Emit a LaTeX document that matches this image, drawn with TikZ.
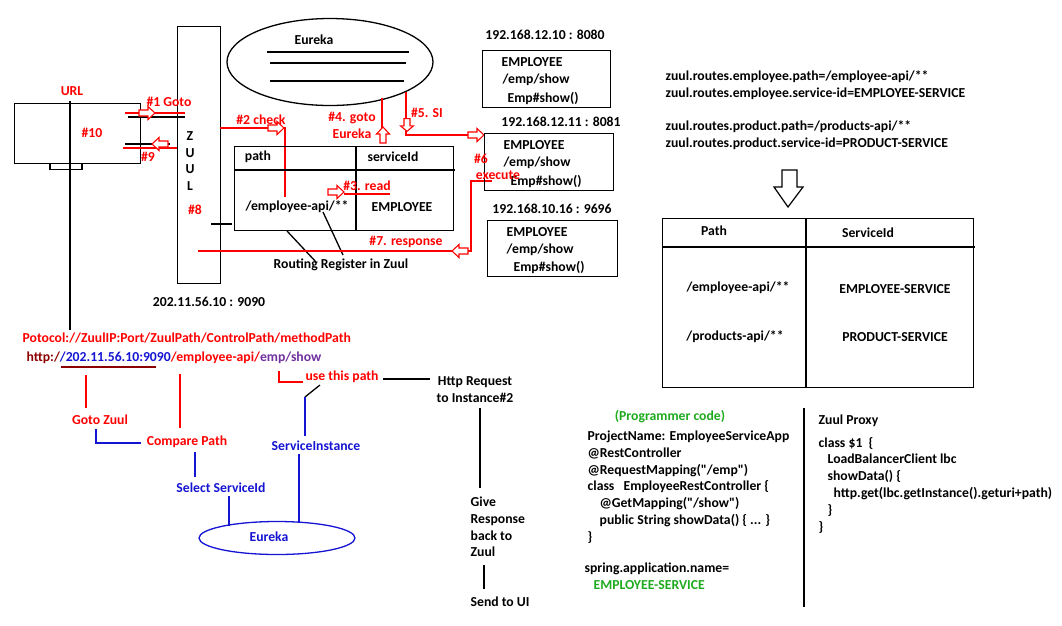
\documentclass[tikz,border=0pt]{standalone}
\usepackage{fontspec}
\setmainfont{Carlito}
\usetikzlibrary{shapes.geometric}
\definecolor{zred}{RGB}{255,0,0}
\definecolor{zblue}{RGB}{20,20,210}
\definecolor{zgreen}{RGB}{30,170,30}
\definecolor{zpurple}{RGB}{112,48,160}
\definecolor{zmaroon}{RGB}{140,0,0}
\tikzset{
  txt/.style={font=\bfseries\fontsize{13.7}{16.8}\selectfont, inner sep=0pt},
  rtxt/.style={txt, text=zred},
  btxt/.style={txt, text=zblue},
  gtxt/.style={txt, text=zgreen},
  box/.style={draw, line width=1.3pt, inner sep=0pt, anchor=north west},
  redln/.style={draw=zred, line width=1.3pt},
  blueln/.style={draw=zblue, line width=1.3pt},
  hollow/.pic={\draw[zred, fill=white, line width=1.1pt]
    (-8,-3) -- (1,-3) -- (1,-6.5) -- (8,0) -- (1,6.5) -- (1,3) -- (-8,3) -- cycle;},
}
\begin{document}
\begin{tikzpicture}[x=1pt, y=-1pt, line width=1.3pt]
  \useasboundingbox (0,0) rectangle (1062,625);

  % client screen
  \node[box, minimum width=126pt, minimum height=60pt] (client) at (14,103) {};
  \node[box, anchor=north, minimum width=32pt, minimum height=6pt] (stand) at (66,163) {};
  \node[rtxt] (url) at (72,91) {URL};
  \node[rtxt] (n10) at (92,133) {\#10};
  \node[rtxt] (n9) at (148,157) {\#9};

  % zuul server
  \node[box, minimum width=43pt, minimum height=257pt] (zuul) at (177,26) {};
  \node[txt, align=center] (zuulname) at (190,161) {Z\\U\\U\\L};
  \node[rtxt] (n8) at (195,210) {\#8};
  \node[txt] (zuulip) at (209,302) {202.11.56.10 : 9090};
  \draw (211,224) -- (232,224);

  % #1 and #9
  \draw[redln] (125,113) -- (185,113);
  \draw (128,117) -- (185,117);
  \pic at (147,113) {hollow};
  \node[rtxt] (n1) at (169,102) {\#1 Goto};
  \draw (125,144) -- (170,144);
  \draw[redln] (123,148) -- (177,148);
  \pic[rotate=180] at (160,144) {hollow};

  % #2 check
  \draw[redln] (220,128) -- (285,128) -- (285,197);
  \pic at (276,128) {hollow};
  \node[rtxt] (n2) at (261,120) {\#2 check};

  % eureka server
  \node[ellipse, draw, minimum width=206pt, minimum height=87pt, inner sep=0pt] (eureka) at (330,62) {};
  \node[txt] (eurekaname) at (314,40) {Eureka};
  \draw (267,52) -- (409,52);
  \draw (270,63) -- (406,63);
  \draw (270,81) -- (404,81);

  % #4 and #5
  \draw[redln] (382,98) -- (382,128);
  \pic[rotate=90] at (383,135) {hollow};
  \node[rtxt, align=center] (n4) at (352,125.5) {\#4. goto\\Eureka};
  \draw[redln] (406,92) -- (406,135) -- (484,135);
  \pic[rotate=270, xscale=0.8] at (407,125) {hollow};
  \pic at (476,135) {hollow};
  \node[rtxt] (n5) at (427,113) {\#5. SI};

  % routing register
  \node[box, minimum width=219pt, minimum height=84pt] (route) at (234,146) {};
  \draw (234,170) -- (455,170);
  \draw (356,146) -- (356,230);
  \node[txt] (pathhead) at (258,157) {path};
  \node[txt] (sidhead) at (393,157) {serviceId};
  \node[txt] (pathval) at (297,207) {/employee-api/**};
  \node[txt] (sidval) at (402,207) {EMPLOYEE};
  \draw[redln] (344,194) -- (390,194);
  \pic at (336,192) {hollow};
  \node[rtxt] (n3) at (367,186) {\#3. read};
  \node[txt] (regname) at (341,265) {Routing Register in Zuul};
  \draw (287,231) -- (316,262);
  \draw (323,212) -- (343,255);

  % #6 and #7
  \draw[redln] (198,251) -- (471,251) -- (471,181) -- (492,181);
  \pic[rotate=180] at (460,251) {hollow};
  \node[rtxt] (n7) at (406,242) {\#7. response};

  % service instances
  \node[box, minimum width=128pt, minimum height=57pt] (inst1) at (482,50) {};
  \node[txt] (ip1) at (545,35) {192.168.12.10 : 8080};
  \node[txt, anchor=west] (svc1) at (501,62) {EMPLOYEE};
  \node[txt, anchor=west] (path1) at (502,80) {/emp/show};
  \node[txt, anchor=west] (meth1) at (507,98) {Emp\#show()};

  \node[box, minimum width=129pt, minimum height=57pt] (inst2) at (484,133) {};
  \node[txt] (ip2) at (561,122) {192.168.12.11 : 8081};
  \node[txt, anchor=west] (svc2) at (503,145) {EMPLOYEE};
  \node[txt, anchor=west] (path2) at (503,163) {/emp/show};
  \node[txt, anchor=west] (meth2) at (510,181) {Emp\#show()};

  \node[box, minimum width=130pt, minimum height=56pt] (inst3) at (487,220) {};
  \node[txt] (ip3) at (552,209) {192.168.10.16 : 9696};
  \node[txt, anchor=west] (svc3) at (506,232) {EMPLOYEE};
  \node[txt, anchor=west] (path3) at (506,250) {/emp/show};
  \node[txt, anchor=west] (meth3) at (513,267) {Emp\#show()};

  \node[rtxt] (n6) at (481,159) {\#6};
  \node[rtxt] (n6b) at (498,175) {execute};

  % properties and route table
  \node[txt, anchor=west, align=left] (empprops) at (665,85) {zuul.routes.employee.path=/employee-api/**\\zuul.routes.employee.service-id=EMPLOYEE-SERVICE};
  \node[txt, anchor=west, align=left] (prodprops) at (665,135.5) {zuul.routes.product.path=/products-api/**\\zuul.routes.product.service-id=PRODUCT-SERVICE};
  \draw[fill=white, line width=1.2pt] (782,170) -- (797,170) -- (797,187) -- (803,187)
    -- (788,207) -- (774,187) -- (782,187) -- cycle;
  \node[box, minimum width=311pt, minimum height=169pt] (table) at (662,218) {};
  \draw (662,247) -- (975,247);
  \draw (806,218) -- (806,387);
  \node[txt] (tpath) at (714,231) {Path};
  \node[txt] (tsid) at (868,233) {ServiceId};
  \node[txt] (tempp) at (738,288) {/employee-api/**};
  \node[txt] (temps) at (895,289) {EMPLOYEE-SERVICE};
  \node[txt] (tprodp) at (735,337) {/products-api/**};
  \node[txt] (tprods) at (895,337) {PRODUCT-SERVICE};

  % url breakdown
  \draw (70,101) -- (70,330);
  \node[rtxt, anchor=west] (proto) at (22,338) {Potocol://ZuulIP:Port/ZuulPath/ControlPath/methodPath};
  \node[txt, anchor=west] (http) at (26,358) {\textcolor{zmaroon}{http:/}\textcolor{zblue}{/202.11.56.10:9090}\textcolor{zred}{/employee-api/}\textcolor{zpurple}{emp/show}};
  \draw[zmaroon] (61,367) -- (156,367);
  \draw[redln] (86,375) -- (86,408);
  \node[rtxt] (gotozuul) at (100,420) {Goto Zuul};
  \draw[redln] (180,374) -- (180,428);
  \node[rtxt] (compare) at (187,442) {Compare Path};
  \draw[blueln] (96,429) -- (96,443) -- (141,443);
  \draw[blueln] (195,452) -- (195,477);
  \node[btxt] (selsid) at (221,488) {Select ServiceId};
  \draw[blueln] (229,496) -- (229,526);
  \draw[redln] (279,371) -- (279,382) -- (303,382);
  \node[rtxt] (usepath) at (342,377) {use this path};
  \draw (305,397) -- (320,385);
  \draw[blueln] (305,397) -- (305,436);
  \node[btxt] (sinst) at (316,446) {ServiceInstance};
  \draw[blueln] (299,454) -- (299,523);
  \node[ellipse, draw=zblue, minimum width=156pt, minimum height=33pt, inner sep=0pt] (eureka2) at (277,538) {};
  \node[btxt] (eureka2name) at (269,537) {Eureka};

  % request flow
  \draw (383,379) -- (430,379);
  \node[txt, align=center] (httpreq) at (475,389.5) {Http Request\\to Instance\#2};
  \draw (480,408) -- (480,488);
  \node[txt, anchor=west, align=left] (giveresp) at (470,527) {Give\\Response\\back to\\Zuul};
  \draw (484,565) -- (484,589);
  \node[txt, anchor=west] (sendui) at (470,602) {Send to UI};

  % code
  \node[gtxt] (progcode) at (670,417) {(Programmer code)};
  \node[txt, anchor=west, align=left] (empcode) at (587,487) {ProjectName: EmployeeServiceApp\\@RestController\\@RequestMapping(\textquotedbl/emp\textquotedbl)\\class\ \ \ EmployeeRestController \{\\\hspace*{12pt}@GetMapping(\textquotedbl/show\textquotedbl)\\\hspace*{12pt}public String showData() \{ ... \}\\\}};
  \node[txt, anchor=west, align=left] (springname) at (584,576.5) {spring.application.name=\\\hspace*{9pt}\textcolor{zgreen}{EMPLOYEE-SERVICE}};
  \draw (804,408) -- (804,607);
  \node[txt, anchor=west] (proxyname) at (818,421) {Zuul Proxy};
  \node[txt, anchor=west, align=left] (proxycode) at (818,485) {class \$1\ \ \{\\\hspace*{9pt}LoadBalancerClient lbc\\\hspace*{9pt}showData() \{\\\hspace*{15pt}http.get(lbc.getInstance().geturi+path)\\\hspace*{9pt}\}\\\}};
\end{tikzpicture}
\end{document}
